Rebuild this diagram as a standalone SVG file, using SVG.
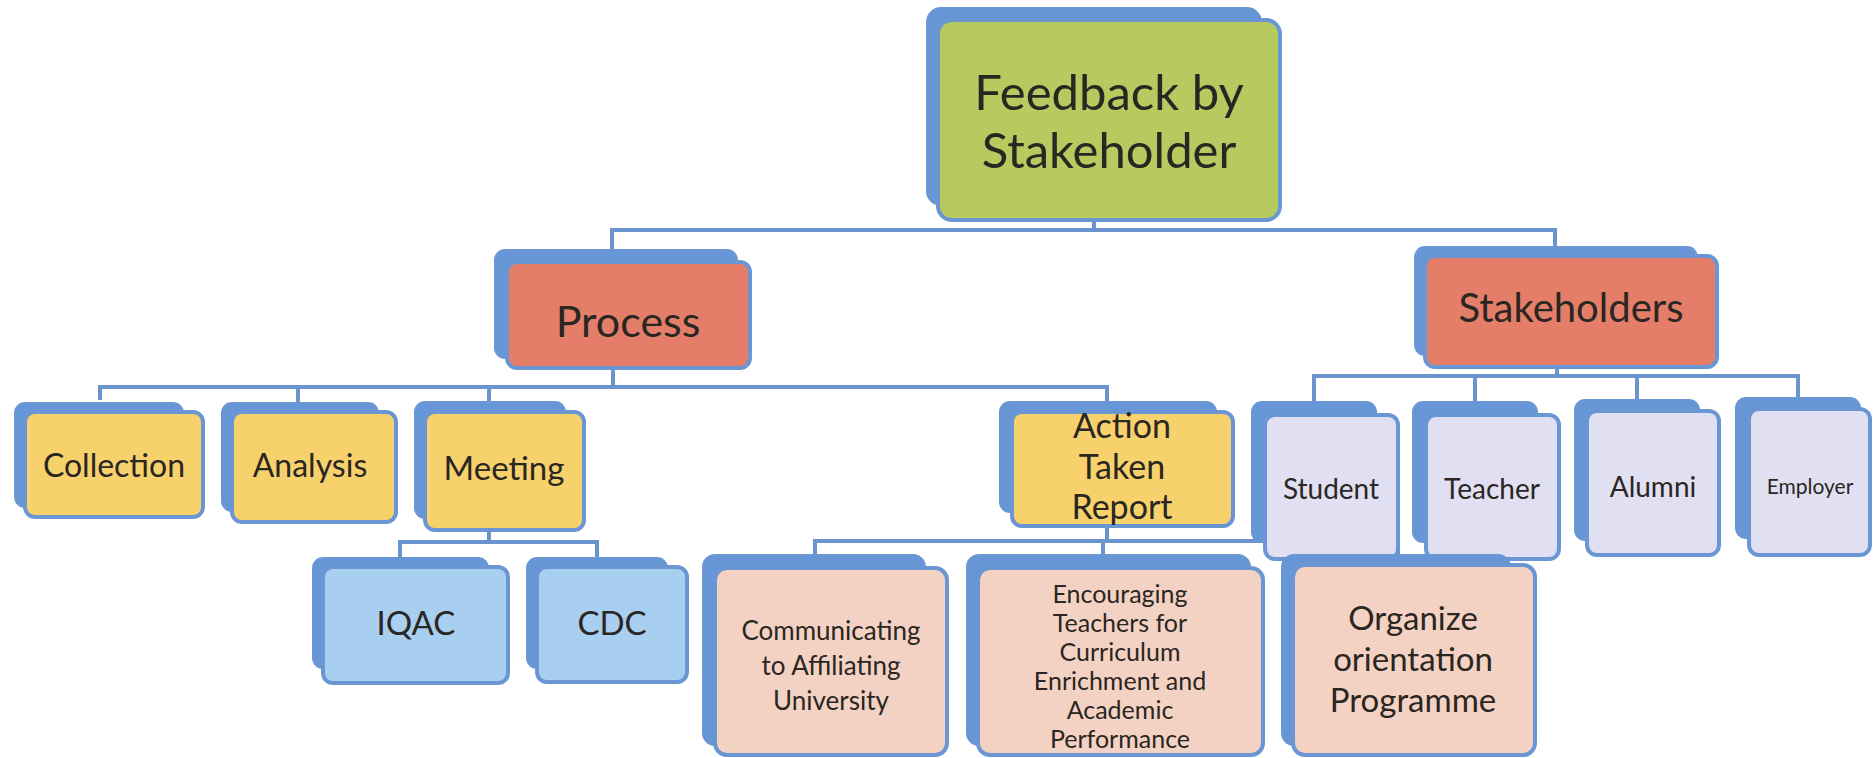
<svg xmlns="http://www.w3.org/2000/svg" width="1875" height="758" viewBox="0 0 1875 758">
<style>
.bk{fill:#6796D6;stroke:#6A97D4;stroke-width:2}
.fr{stroke:#6A97D4;stroke-width:4}
.g{fill:#B6CA60}
.r{fill:#E47E69}
.y{fill:#F7D16C}
.lb{fill:#A8CEF0}
.lv{fill:#E1E0F3}
.pk{fill:#F4D2C3}
.t{font-family:Lato,"Open Sans",sans-serif;fill:#2A2622;text-anchor:middle}
.cn{fill:none;stroke:#6A94CE;stroke-width:4}
</style>
<rect width="1875" height="758" fill="#FFFFFF"/>
<g id="connectors">
<path class="cn" d="M612,252 V230 H1555 V250 M1094,215 V230"/>
<path class="cn" d="M613,360 V387 M100,400 V387 H1107 V405 M298,387 V405 M489,387 V405"/>
<path class="cn" d="M1557,360 V376 M1314,404 V376 H1798 V400 M1475,376 V404 M1637,376 V402"/>
<path class="cn" d="M489,525 V542 M400,560 V542 H597 V560"/>
<path class="cn" d="M1107,522 V541 M815,557 V541 H1398 V557 M1103,541 V557"/>
</g>
<g id="n-feedback">
<rect class="bk" x="927" y="8" width="334" height="197" rx="14"/>
<rect class="fr g" x="938" y="20" width="342" height="200" rx="14"/>
<text class="t" x="1109" y="110" font-size="49">Feedback by</text>
<text class="t" x="1109" y="168" font-size="49">Stakeholder</text>
</g>
<g id="n-process">
<rect class="bk" x="495" y="250" width="242" height="108" rx="10"/>
<rect class="fr r" x="507" y="262" width="243" height="106" rx="10"/>
<text class="t" x="628" y="337" font-size="43">Process</text>
</g>
<g id="n-stakeholders">
<rect class="bk" x="1415" y="247" width="282" height="108" rx="10"/>
<rect class="fr r" x="1425" y="256" width="292" height="111" rx="10"/>
<text class="t" x="1571" y="322" font-size="40">Stakeholders</text>
</g>
<g id="n-collection">
<rect class="bk" x="15" y="403" width="168" height="104" rx="10"/>
<rect class="fr y" x="25" y="412" width="178" height="105" rx="10"/>
<text class="t" x="114" y="477" font-size="32">Collection</text>
</g>
<g id="n-analysis">
<rect class="bk" x="222" y="403" width="156" height="108" rx="10"/>
<rect class="fr y" x="232" y="412" width="164" height="110" rx="10"/>
<text class="t" x="310" y="477" font-size="32">Analysis</text>
</g>
<g id="n-meeting">
<rect class="bk" x="415" y="402" width="150" height="116" rx="10"/>
<rect class="fr y" x="425" y="412" width="159" height="118" rx="10"/>
<text class="t" x="504" y="480" font-size="33">Meeting</text>
</g>
<g id="n-atr">
<rect class="bk" x="1000" y="402" width="216" height="110" rx="10"/>
<rect class="fr y" x="1012" y="412" width="221" height="114" rx="10"/>
<text class="t" x="1122" y="438" font-size="34">Action</text>
<text class="t" x="1122" y="479" font-size="34">Taken</text>
<text class="t" x="1122" y="519" font-size="34">Report</text>
</g>
<g id="n-student">
<rect class="bk" x="1252" y="402" width="124" height="140" rx="10"/>
<rect class="fr lv" x="1265" y="415" width="133" height="144" rx="10"/>
<text class="t" x="1331" y="499" font-size="28">Student</text>
</g>
<g id="n-teacher">
<rect class="bk" x="1413" y="402" width="124" height="140" rx="10"/>
<rect class="fr lv" x="1426" y="415" width="133" height="144" rx="10"/>
<text class="t" x="1492" y="499" font-size="28">Teacher</text>
</g>
<g id="n-alumni">
<rect class="bk" x="1575" y="400" width="124" height="140" rx="10"/>
<rect class="fr lv" x="1587" y="411" width="132" height="144" rx="10"/>
<text class="t" x="1653" y="497" font-size="28">Alumni</text>
</g>
<g id="n-employer">
<rect class="bk" x="1736" y="398" width="124" height="140" rx="10"/>
<rect class="fr lv" x="1749" y="409" width="121" height="146" rx="10"/>
<text class="t" x="1810" y="494" font-size="21">Employer</text>
</g>
<g id="n-iqac">
<rect class="bk" x="313" y="558" width="175" height="110" rx="10"/>
<rect class="fr lb" x="323" y="567" width="185" height="116" rx="10"/>
<text class="t" x="416" y="635" font-size="33">IQAC</text>
</g>
<g id="n-cdc">
<rect class="bk" x="527" y="558" width="140" height="110" rx="10"/>
<rect class="fr lb" x="537" y="567" width="150" height="115" rx="10"/>
<text class="t" x="612" y="635" font-size="33">CDC</text>
</g>
<g id="n-communicating">
<rect class="bk" x="703" y="555" width="222" height="190" rx="12"/>
<rect class="fr pk" x="715" y="568" width="232" height="187" rx="12"/>
<text class="t" x="831" y="640" font-size="26">Communicating</text>
<text class="t" x="831" y="675" font-size="26">to Affiliating</text>
<text class="t" x="831" y="710" font-size="26">University</text>
</g>
<g id="n-encouraging">
<rect class="bk" x="967" y="555" width="283" height="190" rx="12"/>
<rect class="fr pk" x="978" y="568" width="285" height="187" rx="12"/>
<text class="t" x="1120" y="603" font-size="25">Encouraging</text>
<text class="t" x="1120" y="632" font-size="25">Teachers for</text>
<text class="t" x="1120" y="661" font-size="25">Curriculum</text>
<text class="t" x="1120" y="690" font-size="25">Enrichment and</text>
<text class="t" x="1120" y="719" font-size="25">Academic</text>
<text class="t" x="1120" y="748" font-size="25">Performance</text>
</g>
<g id="n-organize">
<rect class="bk" x="1282" y="555" width="228" height="190" rx="12"/>
<rect class="fr pk" x="1293" y="565" width="242" height="190" rx="12"/>
<text class="t" x="1413" y="630" font-size="33">Organize</text>
<text class="t" x="1413" y="671" font-size="33">orientation</text>
<text class="t" x="1413" y="712" font-size="33">Programme</text>
</g>
</svg>
